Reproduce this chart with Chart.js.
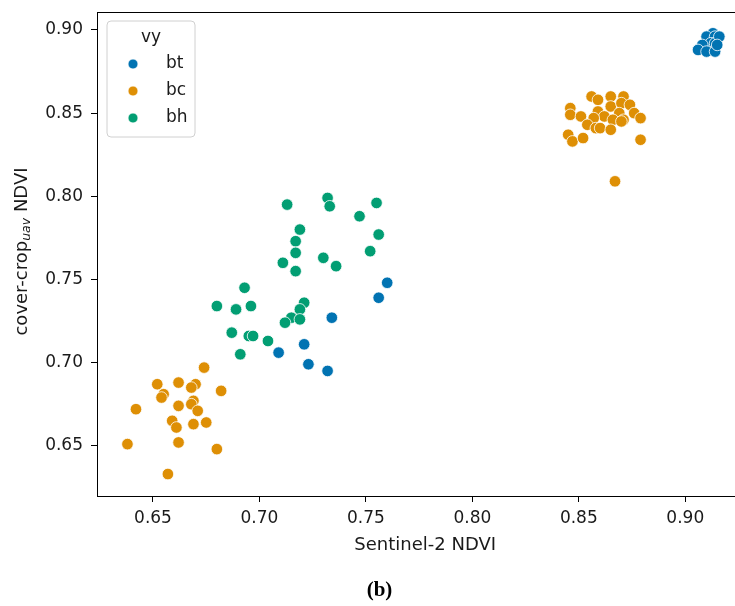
<!DOCTYPE html>
<html><head><meta charset="utf-8">
<script src="https://cdn.jsdelivr.net/npm/chart.js@4/dist/chart.umd.min.js"></script>
<style>html,body{margin:0;padding:0;background:#fff;overflow:hidden}#wrap{width:735px;height:606px;position:relative;overflow:hidden}</style>
</head><body><div id="wrap"><canvas id="c" width="760" height="606"></canvas></div>
<script>
const seriesNames = ['bt', 'bc', 'bh'];
const seriesColors = ['#0173b2', '#de8f05', '#029e73'];
const legendTitle = 'vy';
const xTitle = 'Sentinel-2 NDVI';
const yTitleMain = 'cover-crop';
const yTitleSub = 'uav';
const yTitleTail = ' NDVI';
const caption = '(b)';
const xTicks = [0.65, 0.70, 0.75, 0.80, 0.85, 0.90];
const yTicks = [0.65, 0.70, 0.75, 0.80, 0.85, 0.90];

const btX = [0.913, 0.910, 0.914, 0.912, 0.914, 0.908, 0.906, 0.910, 0.914, 0.916, 0.915,
             0.760, 0.756, 0.734, 0.721, 0.709, 0.723, 0.732];
const btY = [0.898, 0.896, 0.896, 0.892, 0.892, 0.891, 0.888, 0.887, 0.887, 0.896, 0.891,
             0.748, 0.739, 0.727, 0.711, 0.706, 0.699, 0.695];

const bcX = [0.856, 0.859, 0.865, 0.871, 0.846, 0.865, 0.870, 0.874, 0.846, 0.851, 0.859, 0.862,
             0.869, 0.876, 0.879, 0.857, 0.866, 0.871, 0.854, 0.858, 0.860, 0.865, 0.870, 0.845,
             0.847, 0.852, 0.879, 0.867,
             0.674, 0.652, 0.662, 0.670, 0.668, 0.655, 0.654, 0.682, 0.642, 0.662, 0.669, 0.668,
             0.671, 0.659, 0.661, 0.669, 0.675, 0.638, 0.662, 0.680, 0.657];
const bcY = [0.860, 0.858, 0.860, 0.860, 0.853, 0.854, 0.856, 0.855, 0.849, 0.848, 0.851, 0.848,
             0.850, 0.850, 0.847, 0.847, 0.846, 0.846, 0.843, 0.841, 0.841, 0.840, 0.845, 0.837,
             0.833, 0.835, 0.834, 0.809,
             0.697, 0.687, 0.688, 0.687, 0.685, 0.681, 0.679, 0.683, 0.672, 0.674, 0.677, 0.675,
             0.671, 0.665, 0.661, 0.663, 0.664, 0.651, 0.652, 0.648, 0.633];

const bhX = [0.713, 0.732, 0.733, 0.755, 0.747, 0.719, 0.756, 0.717, 0.717, 0.752, 0.711, 0.730,
             0.736, 0.717, 0.693, 0.680, 0.689, 0.696, 0.721, 0.719, 0.715, 0.712, 0.719, 0.687,
             0.695, 0.697, 0.704, 0.691];
const bhY = [0.795, 0.799, 0.794, 0.796, 0.788, 0.780, 0.777, 0.773, 0.766, 0.767, 0.760, 0.763,
             0.758, 0.755, 0.745, 0.734, 0.732, 0.734, 0.736, 0.732, 0.727, 0.724, 0.726, 0.718,
             0.716, 0.716, 0.713, 0.705];

const xs = [btX, bcX, bhX];
const ys = [btY, bcY, bhY];

const datasets = seriesNames.map((name, i) => ({
  label: name,
  data: xs[i].map((x, j) => ({x: x, y: ys[i][j]})),
  backgroundColor: seriesColors[i],
  borderColor: '#ffffff',
  borderWidth: 0.8,
  pointRadius: 5.8,
  pointHoverRadius: 5.8
}));

const FONT = 'DejaVu Sans';
const TXT = '#1a1a1a';

const framePlugin = {
  id: 'frame',
  afterDatasetsDraw(chart) {
    const a = chart.chartArea, ctx = chart.ctx;
    ctx.save();
    ctx.strokeStyle = '#000';
    ctx.lineWidth = 1;
    ctx.strokeRect(Math.round(a.left) + 0.5, Math.round(a.top) + 0.5,
                   Math.round(a.right - a.left) - 1, Math.round(a.bottom - a.top) - 1);
    ctx.restore();
  }
};

const legendPlugin = {
  id: 'innerLegend',
  afterDatasetsDraw(chart) {
    const ctx = chart.ctx, a = chart.chartArea;
    const bx = a.left + 10, by = a.top + 9, bw = 88, bh = 116, r = 4;
    ctx.save();
    ctx.beginPath();
    ctx.moveTo(bx + r, by);
    ctx.arcTo(bx + bw, by, bx + bw, by + bh, r);
    ctx.arcTo(bx + bw, by + bh, bx, by + bh, r);
    ctx.arcTo(bx, by + bh, bx, by, r);
    ctx.arcTo(bx, by, bx + bw, by, r);
    ctx.closePath();
    ctx.fillStyle = 'rgba(255,255,255,0.8)';
    ctx.fill();
    ctx.strokeStyle = '#d0d0d0';
    ctx.lineWidth = 1;
    ctx.stroke();
    ctx.fillStyle = TXT;
    ctx.font = '17px "' + FONT + '"';
    ctx.textAlign = 'center';
    ctx.textBaseline = 'middle';
    ctx.fillText(legendTitle, bx + 44, by + 17);
    chart.data.datasets.forEach((ds, i) => {
      const cy = by + 43 + i * 27;
      ctx.beginPath();
      ctx.arc(bx + 26, cy, 5, 0, Math.PI * 2);
      ctx.fillStyle = ds.backgroundColor;
      ctx.fill();
      ctx.strokeStyle = '#fff';
      ctx.lineWidth = 0.8;
      ctx.stroke();
      ctx.fillStyle = TXT;
      ctx.textAlign = 'left';
      ctx.fillText(ds.label, bx + 59, cy);
    });
    ctx.restore();
  }
};

const yTitlePlugin = {
  id: 'yTitle',
  afterDraw(chart) {
    const ctx = chart.ctx, a = chart.chartArea;
    const cx = 22, cy = (a.top + a.bottom) / 2 - 3;
    ctx.save();
    const fMain = '18px "' + FONT + '"';
    const fSub = 'italic 12.5px "' + FONT + '"';
    ctx.font = fMain; const w1 = ctx.measureText(yTitleMain).width; const w3 = ctx.measureText(yTitleTail).width;
    ctx.font = fSub; const w2 = ctx.measureText(yTitleSub).width;
    const total = w1 + w2 + w3;
    ctx.translate(cx, cy);
    ctx.rotate(-Math.PI / 2);
    ctx.fillStyle = TXT;
    ctx.textBaseline = 'middle';
    ctx.textAlign = 'left';
    let x0 = -total / 2;
    ctx.font = fMain; ctx.fillText(yTitleMain, x0, 0); x0 += w1;
    ctx.font = fSub; ctx.fillText(yTitleSub, x0, 4.5); x0 += w2;
    ctx.font = fMain; ctx.fillText(yTitleTail, x0, 0);
    ctx.restore();
  }
};

new Chart(document.getElementById('c'), {
  type: 'scatter',
  data: { datasets: datasets },
  options: {
    responsive: false,
    animation: false,
    layout: { padding: { top: 12, right: 1, left: 0, bottom: 0 } },
    scales: {
      x: {
        type: 'linear', min: 0.6237, max: 0.932,
        afterBuildTicks: s => { s.ticks = xTicks.map(v => ({ value: v })); },
        afterFit: s => { s.height = 73.8; s.paddingLeft = 0; s.paddingRight = 0; },
        ticks: { font: { family: FONT, size: 17 }, color: TXT, padding: 6, maxRotation: 0, autoSkip: false,
                 callback: v => Number(v).toFixed(2) },
        grid: { display: true, drawOnChartArea: false, drawTicks: true, tickLength: 5, tickColor: '#000', color: '#000' },
        border: { display: false },
        title: { display: true, text: xTitle, font: { family: FONT, size: 18 }, color: TXT, padding: { top: 4, bottom: 15 } }
      },
      y: {
        type: 'linear', min: 0.6192, max: 0.9108,
        afterBuildTicks: s => { s.ticks = yTicks.map(v => ({ value: v })); },
        afterFit: s => { s.width = 97; s.paddingTop = 0; s.paddingBottom = 0; },
        ticks: { font: { family: FONT, size: 17 }, color: TXT, padding: 8, autoSkip: false,
                 callback: v => Number(v).toFixed(2) },
        grid: { display: true, drawOnChartArea: false, drawTicks: true, tickLength: 6, tickColor: '#000', color: '#000' },
        border: { display: false }
      }
    },
    plugins: {
      legend: { display: false },
      tooltip: { enabled: false },
      title: { display: true, position: 'bottom', text: caption,
               font: { family: 'Liberation Serif', size: 21, weight: 'bold' }, color: '#000',
               padding: { top: 7, bottom: 3 } }
    }
  },
  plugins: [framePlugin, legendPlugin, yTitlePlugin]
});
</script></body></html>
